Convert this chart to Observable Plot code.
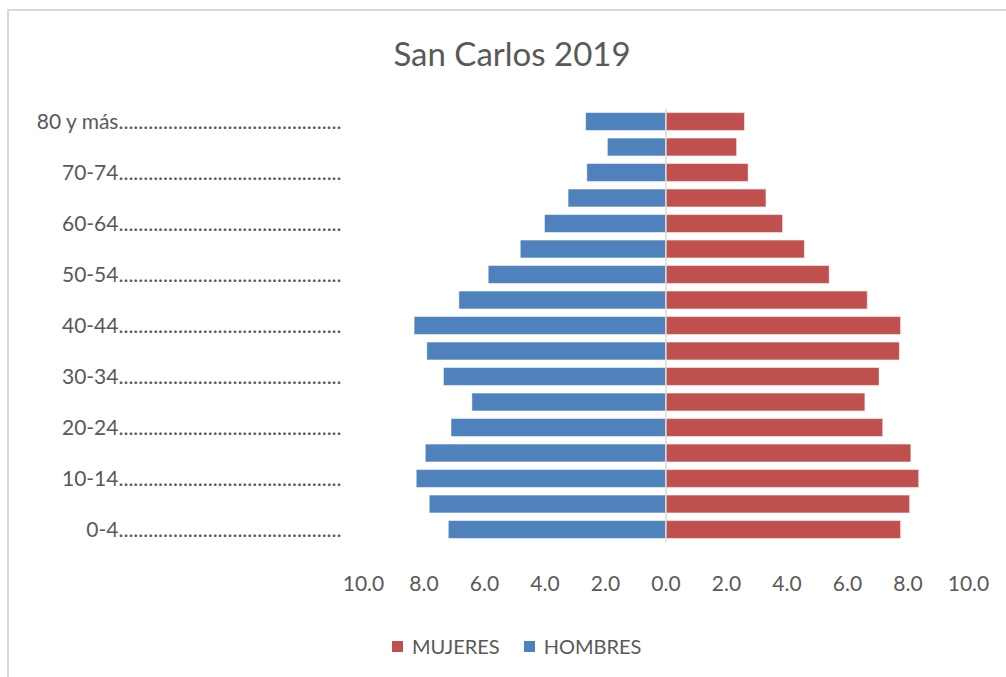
<!DOCTYPE html>
<html>
<head>
<meta charset="utf-8">
<script src="https://cdn.jsdelivr.net/npm/d3@7"></script>
<script src="https://cdn.jsdelivr.net/npm/@observablehq/plot@0.6"></script>
<style>
  html, body { margin: 0; padding: 0; background: #fff; }
  #wrap { position: relative; width: 1006px; height: 677px; overflow: hidden; font-family: Lato, sans-serif; color: #595959; }
  #border { position: absolute; left: 7px; top: 9px; width: 1100px; height: 800px; border-top: 2px solid #d9d9d9; border-left: 2px solid #d9d9d9; }
  #title { position: absolute; left: 0; width: 1024px; top: 33px; text-align: center; font-size: 33px; line-height: 40px; }
  #chart { position: absolute; left: 0; top: 0; }
  #legend { position: absolute; left: 392px; top: 634px; font-size: 20px; line-height: 24px; display: flex; align-items: center; }
  .sw { display: inline-block; width: 11px; height: 11px; margin-right: 9px; }
  .item { display: flex; align-items: center; margin-right: 24px; }
</style>
</head>
<body>
<div id="wrap">
  <div id="border"></div>
  <div id="chart"></div>
  <div id="title">San Carlos 2019</div>
  <div id="legend"></div>
</div>
<script>
const ages = ["80 y más","75-79","70-74","65-69","60-64","55-59","50-54","45-49","40-44","35-39","30-34","25-29","20-24","15-19","10-14","5-9","0-4"];
const hombres = [2.64,1.92,2.60,3.22,4.00,4.80,5.86,6.83,8.31,7.89,7.34,6.40,7.09,7.94,8.24,7.81,7.18];
const mujeres = [2.61,2.35,2.73,3.32,3.87,4.59,5.41,6.67,7.77,7.73,7.06,6.59,7.18,8.11,8.37,8.07,7.77];
const labeledAges = ["80 y más","70-74","60-64","50-54","40-44","30-34","20-24","10-14","0-4"];
const xTicks = [-10,-8,-6,-4,-2,0,2,4,6,8,10];
const dotLeader = ".............................................";
const seriesNames = ["MUJERES","HOMBRES"];
const seriesColors = ["#C0504D","#4F81BD"];

const rows = ages.map((a, i) => ({age: a, hombres: hombres[i], mujeres: mujeres[i]}));

const plot = Plot.plot({
  width: 1006,
  height: 677,
  marginLeft: 363,
  marginRight: 38,
  marginTop: 108.75,
  marginBottom: 134.75,
  style: {fontFamily: "Lato, sans-serif", fontSize: "21px", color: "#595959", background: "transparent", overflow: "visible"},
  x: {domain: [-10, 10]},
  y: {domain: ages, paddingInner: 0.3, paddingOuter: 0.15, round: false},
  marks: [
    Plot.barX(rows, {x1: 0, x2: d => -d.hombres, y: "age", fill: seriesColors[1], stroke: "#ffffff", strokeOpacity: 0.45, strokeWidth: 1}),
    Plot.barX(rows, {x1: 0, x2: d => d.mujeres, y: "age", fill: seriesColors[0], stroke: "#ffffff", strokeOpacity: 0.45, strokeWidth: 1}),
    Plot.ruleX([0], {stroke: "#d9d9d9", strokeWidth: 1.5}),
    Plot.axisX({ticks: xTicks, tickSize: 0, tickPadding: 33, tickFormat: d => Math.abs(d).toFixed(1), label: null, fontSize: 21}),
    Plot.axisY({ticks: labeledAges, tickSize: 0, tickPadding: 22, tickFormat: d => d + dotLeader, label: null, fontSize: 21})
  ]
});
document.getElementById("chart").appendChild(plot);

const legend = document.getElementById("legend");
seriesNames.forEach((n, i) => {
  const it = document.createElement("div");
  it.className = "item";
  const sw = document.createElement("span");
  sw.className = "sw";
  sw.style.background = seriesColors[i];
  it.appendChild(sw);
  it.appendChild(document.createTextNode(n));
  legend.appendChild(it);
});
</script>
</body>
</html>
